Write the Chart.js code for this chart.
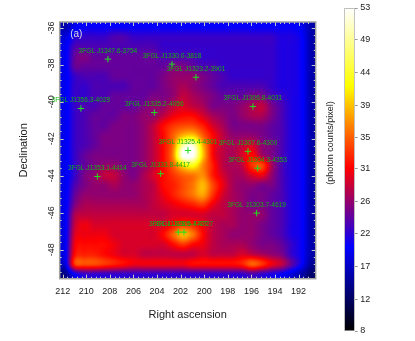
<!DOCTYPE html>
<html><head><meta charset="utf-8">
<style>html,body{margin:0;padding:0;background:#fff}canvas{position:absolute;left:0;top:0}#cb{left:320px}</style>
<script src="https://cdn.jsdelivr.net/npm/chart.js@4"></script></head>
<body><canvas id="map" width="415" height="341"></canvas><canvas id="cb" width="95" height="341"></canvas>
<script>
const raTicks=[212,210,208,206,204,202,200,198,196,194,192];
const decTicks=[-36,-38,-40,-42,-44,-46,-48];
const barTicks=[53,48.6,44,39.4,35,30.6,26,21.6,17,12.4,8];
const barLabels=['53','49','44','39','35','31','26','22','17','12','8'];
const sourceNames=['3FGL J1347.6-3754','3FGL J1330.0-3818','3FGL J1323.2-3901','3FGL J1356.3-4029','3FGL J1335.2-4056','3FGL J1306.8-4031','3FGL J1325.4-4301','3FGL J1307.6-4300','3FGL J1304.3-4353','3FGL J1353.1-4414','3FGL J1333.8-4417','3FGL J1303.7-4619','3FGL J1328.5-4727','3FGL J1326.7-4727'];
const sourceRA=[208.16,202.73,200.70,210.45,204.23,195.87,201.38,196.29,195.47,209.06,203.69,195.56,202.20,201.72];
const sourceDec=[-37.69,-37.96,-38.67,-40.36,-40.58,-40.25,-42.63,-42.68,-43.59,-44.04,-43.89,-46.02,-47.05,-47.05];
const counts=[
[16,19,20,20,20,20,20,20,20,20,20,20,20,20,20,20,20,20,20,20,20,20,20,20,19,16],
[18,21,22,22,22,23,23,22,22,22,22,22,22,22,22,22,22,22,22,22,22,22,21,21,20,16],
[19,23,23,23,23,23,23,23,23,23,22,22,22,22,22,22,22,22,22,22,22,22,21,21,20,16],
[19,24,25,24,24,24,24,24,24,24,23,23,23,23,22,22,22,22,22,22,22,22,21,21,20,16],
[19,24,24,24,24,24,24,24,24,24,24,25,25,24,23,23,22,22,22,22,22,22,21,21,20,16],
[19,22,23,23,23,24,24,24,24,24,25,26,26,26,25,24,23,22,22,22,22,22,21,21,20,16],
[19,22,22,23,23,23,23,24,24,24,25,26,27,26,25,24,23,23,23,23,23,22,21,21,20,16],
[19,22,22,23,23,24,24,24,24,25,25,26,28,27,26,25,24,24,24,25,25,23,22,21,20,16],
[19,22,23,23,24,24,24,24,25,26,26,28,29,28,27,25,25,25,26,27,28,25,23,21,20,16],
[19,22,23,24,24,24,25,25,26,26,28,30,31,31,29,27,26,25,26,27,27,25,23,21,20,16],
[19,22,23,24,24,25,25,25,26,28,31,33,34,34,32,29,27,25,25,25,25,24,23,21,20,16],
[19,22,23,24,25,25,25,25,26,28,31,35,39,40,35,31,28,26,26,26,25,24,23,21,20,16],
[19,22,23,24,25,25,25,25,26,28,31,36,49,51,39,31,28,27,28,29,26,25,23,21,20,16],
[19,22,24,25,25,25,25,25,26,28,31,37,53,53,40,31,28,27,29,31,27,25,23,21,20,16],
[19,22,24,25,26,26,25,25,26,28,31,35,41,43,37,32,28,27,28,33,34,27,23,21,20,16],
[19,22,25,26,28,28,26,25,27,29,31,33,35,36,37,32,29,27,27,29,30,26,23,21,20,16],
[19,23,25,26,26,27,26,26,27,28,31,32,34,36,39,34,30,27,26,26,25,25,23,21,20,16],
[19,24,26,26,26,26,26,26,27,28,30,32,34,36,38,33,29,27,26,25,25,24,23,21,20,16],
[19,25,27,27,27,27,27,27,27,28,29,30,31,32,33,30,28,27,26,25,25,24,23,21,20,16],
[19,27,28,28,28,28,28,28,28,28,28,29,29,29,29,28,28,27,26,26,26,24,23,21,20,16],
[19,28,30,29,29,29,29,29,29,29,29,31,33,32,30,28,27,27,26,26,25,24,23,21,20,16],
[19,29,30,30,30,29,29,29,29,29,31,35,39,36,31,28,27,26,26,26,25,24,23,21,20,16],
[19,30,31,31,31,30,29,29,29,29,29,31,33,31,30,28,27,27,27,26,25,25,24,22,20,16],
[19,31,32,32,31,30,29,29,28,28,28,28,28,28,29,28,28,28,29,28,27,26,25,22,20,16],
[18,33,34,34,33,32,31,30,30,30,30,30,30,31,31,31,31,31,32,35,33,30,28,24,20,15],
[14,20,22,22,22,22,22,22,22,22,22,22,22,22,22,22,22,22,22,23,22,21,20,18,16,13]
];
const RA_LEFT=212.25,RA_RIGHT=190.55,DEC_TOP=-35.68,DEC_BOTTOM=-49.57;
const FONT='"Liberation Sans",Arial,sans-serif';
const stops=[[0,0,0,0],[0.26,0,0,255],[0.505,255,0,0],[0.76,255,255,0],[1,255,255,255]];
function colour(v){
  const f=Math.max(0,Math.min(1,(v-8)/45));
  for(let i=1;i<stops.length;i++){if(f<=stops[i][0]){const a=stops[i-1],b=stops[i],t=(f-a[0])/(b[0]-a[0]);
    return [a[1]+(b[1]-a[1])*t,a[2]+(b[2]-a[2])*t,a[3]+(b[3]-a[3])*t];}}
  return [255,255,255];
}
function cr(p0,p1,p2,p3,t){return p1+0.5*t*(p2-p0+t*(2*p0-5*p1+4*p2-p3+t*(3*(p1-p2)+p3-p0)));}
const nr=counts.length,nc=counts[0].length;
const at=(r,c)=>counts[Math.max(0,Math.min(nr-1,r))][Math.max(0,Math.min(nc-1,c))];
function sample(u,v){
  const c=Math.floor(u),r=Math.floor(v),tx=u-c,ty=v-r,col=[];
  for(let k=-1;k<=2;k++)col.push(cr(at(r+k,c-1),at(r+k,c),at(r+k,c+1),at(r+k,c+2),tx));
  return cr(col[0],col[1],col[2],col[3],ty);
}
const heatPlugin={id:'heat',beforeDatasetsDraw(ch){
  const x=ch.scales.x,y=ch.scales.y,x0=x.getPixelForValue(RA_LEFT),x1=x.getPixelForValue(RA_RIGHT),y0=y.getPixelForValue(DEC_TOP),y1=y.getPixelForValue(DEC_BOTTOM);
  const w=Math.round(x1-x0),h=Math.round(y1-y0),img=ch.ctx.createImageData(w,h);
  for(let j=0;j<h;j++)for(let i=0;i<w;i++){
    const c=colour(sample((i+.5)/w*nc-.5,(j+.5)/h*nr-.5)),o=(j*w+i)*4;
    img.data[o]=c[0];img.data[o+1]=c[1];img.data[o+2]=c[2];img.data[o+3]=255;
  }
  ch.ctx.putImageData(img,Math.round(x0),Math.round(y0));
},afterDatasetsDraw(ch){
  const c=ch.ctx,x=ch.scales.x,y=ch.scales.y,a=ch.chartArea;
  c.save();
  c.strokeStyle='#c8c8c8';c.lineWidth=1;c.beginPath();
  for(let k=-2;k<=60;k++){const v=192+k*0.4;if(v>RA_LEFT||v<RA_RIGHT)continue;const p=Math.round(x.getPixelForValue(v))+.5,l=k%5==0?4:2;
    c.moveTo(p,a.bottom);c.lineTo(p,a.bottom-l);c.moveTo(p,a.top);c.lineTo(p,a.top+l);}
  for(let k=0;k<=40;k++){const v=-36-k*0.4;if(v<DEC_BOTTOM)break;const p=Math.round(y.getPixelForValue(v))+.5,l=(k%5==0)?4:2;
    c.moveTo(a.left,p);c.lineTo(a.left+l,p);c.moveTo(a.right,p);c.lineTo(a.right-l,p);}
  c.stroke();
  c.strokeStyle='#a0a0a0';c.lineWidth=1.5;c.strokeRect(a.left,a.top,a.right-a.left,a.bottom-a.top);
  c.font='6.6px '+FONT;c.textAlign='center';c.textBaseline='middle';c.fillStyle='#12b012';
  sourceNames.forEach((n,i)=>c.fillText(n,x.getPixelForValue(sourceRA[i]),y.getPixelForValue(sourceDec[i])-8.3));
  c.font='10px '+FONT;c.textAlign='left';c.fillStyle='#dddddd';
  c.fillText('(a)',a.left+10.5,a.top+12.7);
  c.restore();
}};
new Chart(document.getElementById('map'),{type:'scatter',plugins:[heatPlugin],
 data:{datasets:[{data:sourceRA.map((r,i)=>({x:r,y:sourceDec[i]})),pointStyle:'cross',pointRadius:3.2,pointBorderColor:'#20e020',pointBorderWidth:1,pointHoverRadius:3.2,showLine:false}]},
 options:{responsive:false,animation:false,devicePixelRatio:1,
  layout:{padding:{left:0,right:99.3,top:22,bottom:0}},
  plugins:{legend:{display:false},tooltip:{enabled:false}},
  scales:{
   x:{type:'linear',reverse:true,min:RA_RIGHT,max:RA_LEFT,afterBuildTicks(s){s.ticks=raTicks.map(v=>({value:v}));},afterFit(s){s.height=341-278.7;},
      border:{display:false},grid:{display:false,drawTicks:false},
      ticks:{autoSkip:false,padding:7,color:'#222',font:{family:FONT,size:9},maxRotation:0,minRotation:0},
      title:{display:true,text:'Right ascension',color:'#222',font:{family:FONT,size:11},padding:{top:0,bottom:19.4}}},
   y:{type:'linear',min:DEC_BOTTOM,max:DEC_TOP,afterBuildTicks(s){s.ticks=decTicks.map(v=>({value:v}));},afterFit(s){s.width=59.7;},
      border:{display:false},grid:{display:false,drawTicks:false},
      ticks:{autoSkip:false,padding:1.5,crossAlign:'center',color:'#222',font:{family:FONT,size:9},minRotation:90,maxRotation:90},
      title:{display:true,text:'Declination',color:'#222',font:{family:FONT,size:11},padding:{top:17.7,bottom:0}}}
  }}});
const barTitle={id:'barTitle',afterDraw(ch){const c=ch.ctx;c.save();c.translate(10.5,143);c.rotate(-Math.PI/2);c.font='9px '+FONT;c.fillStyle='#222';c.textAlign='center';c.textBaseline='middle';c.fillText('(photon counts/pixel)',0,0);c.restore();}};
new Chart(document.getElementById('cb'),{type:'bar',plugins:[barTitle],
 data:{labels:['counts'],datasets:[{data:[[8,53]],barPercentage:1,categoryPercentage:1,borderColor:'#a8a8a8',borderWidth:1,borderSkipped:false,
  backgroundColor(c){const a=c.chart.chartArea;if(!a)return '#000';const g=c.chart.ctx.createLinearGradient(0,a.bottom,0,a.top);stops.forEach(s=>g.addColorStop(s[0],`rgb(${s[1]},${s[2]},${s[3]})`));return g;}}]},
 options:{responsive:false,animation:false,devicePixelRatio:1,
  layout:{padding:{left:24.3,right:0,top:8,bottom:10}},
  plugins:{legend:{display:false},tooltip:{enabled:false}},
  scales:{
   x:{display:false},
   y:{position:'right',min:8,max:53,afterBuildTicks(s){s.ticks=barTicks.map(v=>({value:v}));},afterFit(s){s.width=60.3;},
      border:{display:false},grid:{drawOnChartArea:false,drawTicks:true,tickLength:3,color:'#999'},
      ticks:{autoSkip:false,padding:2.5,color:'#222',font:{family:FONT,size:9},callback(v){return barLabels[barTicks.indexOf(v)];}}}
  }}});
</script></body></html>
